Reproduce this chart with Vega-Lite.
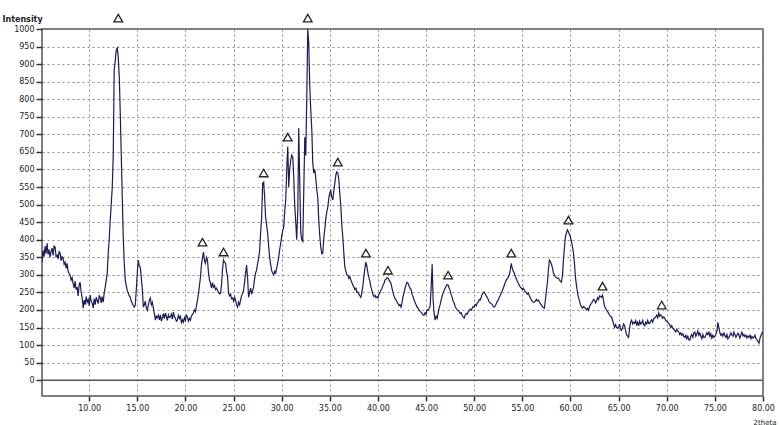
{
"$schema": "https://vega.github.io/schema/vega-lite/v6.json",
"width": 721, "height": 367,
"autosize": {"type": "none"},
"padding": {"left": 42, "top": 29, "right": 17, "bottom": 29},
"background": "white",
"config": {
  "view": {"stroke": "#555", "strokeWidth": 1.5},
  "axis": {"labelFont": "DejaVu Sans", "labelFontSize": 8, "labelColor": "#222", "labelOverlap": false, "titleFont": "DejaVu Sans", "titleColor": "#222", "grid": true, "gridColor": "#8a8a8a", "gridDash": [2, 3], "gridWidth": 1, "tickColor": "#333", "tickWidth": 1.5, "domain": false}
},
"datasets": {
"xrd": [
{"t":5.10,"i":335},{"t":5.21,"i":370},{"t":5.32,"i":352},{"t":5.42,"i":382},{"t":5.52,"i":360},{"t":5.63,"i":390},{"t":5.73,"i":358},{"t":5.83,"i":372},{"t":5.94,"i":350},{"t":6.05,"i":368},{"t":6.15,"i":376},{"t":6.25,"i":355},{"t":6.36,"i":382},{"t":6.46,"i":379},{"t":6.56,"i":352},{"t":6.67,"i":356},{"t":6.77,"i":345},{"t":6.88,"i":366},{"t":6.98,"i":362},{"t":7.08,"i":340},{"t":7.19,"i":352},{"t":7.29,"i":348},{"t":7.40,"i":330},{"t":7.50,"i":336},{"t":7.61,"i":318},{"t":7.71,"i":333},{"t":7.81,"i":310},{"t":7.92,"i":304},{"t":8.02,"i":299},{"t":8.12,"i":285},{"t":8.23,"i":292},{"t":8.33,"i":276},{"t":8.44,"i":262},{"t":8.54,"i":282},{"t":8.65,"i":258},{"t":8.75,"i":265},{"t":8.85,"i":240},{"t":8.96,"i":272},{"t":9.06,"i":279},{"t":9.17,"i":250},{"t":9.27,"i":236},{"t":9.38,"i":205},{"t":9.48,"i":228},{"t":9.58,"i":215},{"t":9.69,"i":238},{"t":9.79,"i":222},{"t":9.90,"i":230},{"t":10.00,"i":212},{"t":10.10,"i":242},{"t":10.21,"i":225},{"t":10.31,"i":220},{"t":10.42,"i":205},{"t":10.52,"i":232},{"t":10.63,"i":215},{"t":10.73,"i":236},{"t":10.83,"i":228},{"t":10.94,"i":218},{"t":11.04,"i":240},{"t":11.15,"i":236},{"t":11.25,"i":220},{"t":11.35,"i":238},{"t":11.46,"i":222},{"t":11.56,"i":248},{"t":11.67,"i":265},{"t":11.77,"i":285},{"t":11.88,"i":305},{"t":11.98,"i":362},{"t":12.08,"i":400},{"t":12.19,"i":456},{"t":12.29,"i":500},{"t":12.40,"i":550},{"t":12.50,"i":640},{"t":12.60,"i":883},{"t":12.71,"i":910},{"t":12.81,"i":940},{"t":12.92,"i":946},{"t":13.02,"i":920},{"t":13.13,"i":863},{"t":13.23,"i":760},{"t":13.33,"i":647},{"t":13.44,"i":520},{"t":13.54,"i":407},{"t":13.65,"i":330},{"t":13.75,"i":285},{"t":13.85,"i":270},{"t":13.96,"i":255},{"t":14.06,"i":248},{"t":14.17,"i":240},{"t":14.27,"i":236},{"t":14.38,"i":224},{"t":14.48,"i":219},{"t":14.58,"i":212},{"t":14.69,"i":208},{"t":14.79,"i":214},{"t":14.90,"i":260},{"t":15.00,"i":305},{"t":15.10,"i":342},{"t":15.21,"i":325},{"t":15.31,"i":322},{"t":15.42,"i":290},{"t":15.52,"i":260},{"t":15.63,"i":208},{"t":15.73,"i":215},{"t":15.83,"i":225},{"t":15.94,"i":205},{"t":16.04,"i":199},{"t":16.15,"i":214},{"t":16.25,"i":228},{"t":16.35,"i":234},{"t":16.46,"i":215},{"t":16.56,"i":222},{"t":16.67,"i":205},{"t":16.77,"i":190},{"t":16.88,"i":171},{"t":16.98,"i":182},{"t":17.08,"i":178},{"t":17.19,"i":185},{"t":17.29,"i":172},{"t":17.40,"i":186},{"t":17.50,"i":168},{"t":17.60,"i":177},{"t":17.71,"i":190},{"t":17.81,"i":175},{"t":17.92,"i":191},{"t":18.02,"i":182},{"t":18.12,"i":170},{"t":18.23,"i":186},{"t":18.33,"i":178},{"t":18.44,"i":180},{"t":18.54,"i":188},{"t":18.65,"i":174},{"t":18.75,"i":194},{"t":18.85,"i":182},{"t":18.96,"i":176},{"t":19.06,"i":168},{"t":19.17,"i":171},{"t":19.27,"i":185},{"t":19.38,"i":176},{"t":19.48,"i":182},{"t":19.58,"i":164},{"t":19.69,"i":172},{"t":19.79,"i":165},{"t":19.90,"i":178},{"t":20.00,"i":170},{"t":20.10,"i":185},{"t":20.21,"i":180},{"t":20.31,"i":168},{"t":20.42,"i":176},{"t":20.52,"i":171},{"t":20.62,"i":182},{"t":20.73,"i":188},{"t":20.83,"i":191},{"t":20.94,"i":200},{"t":21.04,"i":195},{"t":21.15,"i":212},{"t":21.25,"i":228},{"t":21.35,"i":245},{"t":21.46,"i":270},{"t":21.56,"i":293},{"t":21.67,"i":330},{"t":21.77,"i":350},{"t":21.88,"i":365},{"t":21.98,"i":340},{"t":22.08,"i":333},{"t":22.19,"i":350},{"t":22.29,"i":342},{"t":22.40,"i":305},{"t":22.50,"i":285},{"t":22.60,"i":276},{"t":22.71,"i":262},{"t":22.81,"i":278},{"t":22.92,"i":265},{"t":23.02,"i":270},{"t":23.13,"i":258},{"t":23.23,"i":262},{"t":23.33,"i":256},{"t":23.44,"i":250},{"t":23.54,"i":246},{"t":23.65,"i":248},{"t":23.75,"i":272},{"t":23.85,"i":315},{"t":23.96,"i":342},{"t":24.06,"i":336},{"t":24.17,"i":333},{"t":24.27,"i":310},{"t":24.38,"i":293},{"t":24.48,"i":248},{"t":24.58,"i":240},{"t":24.69,"i":245},{"t":24.79,"i":232},{"t":24.90,"i":234},{"t":25.00,"i":225},{"t":25.10,"i":236},{"t":25.21,"i":228},{"t":25.31,"i":215},{"t":25.42,"i":208},{"t":25.52,"i":222},{"t":25.63,"i":215},{"t":25.73,"i":228},{"t":25.83,"i":240},{"t":25.94,"i":248},{"t":26.04,"i":256},{"t":26.15,"i":280},{"t":26.25,"i":305},{"t":26.35,"i":328},{"t":26.46,"i":290},{"t":26.56,"i":236},{"t":26.67,"i":250},{"t":26.77,"i":262},{"t":26.88,"i":245},{"t":26.98,"i":256},{"t":27.08,"i":265},{"t":27.19,"i":290},{"t":27.29,"i":305},{"t":27.40,"i":315},{"t":27.50,"i":333},{"t":27.60,"i":345},{"t":27.71,"i":370},{"t":27.81,"i":420},{"t":27.92,"i":464},{"t":28.02,"i":561},{"t":28.13,"i":564},{"t":28.23,"i":520},{"t":28.33,"i":464},{"t":28.44,"i":440},{"t":28.54,"i":419},{"t":28.65,"i":380},{"t":28.75,"i":350},{"t":28.85,"i":330},{"t":28.96,"i":312},{"t":29.06,"i":305},{"t":29.17,"i":300},{"t":29.27,"i":310},{"t":29.38,"i":305},{"t":29.48,"i":320},{"t":29.58,"i":333},{"t":29.69,"i":350},{"t":29.79,"i":372},{"t":29.90,"i":390},{"t":30.00,"i":410},{"t":30.10,"i":425},{"t":30.21,"i":436},{"t":30.31,"i":480},{"t":30.42,"i":513},{"t":30.52,"i":598},{"t":30.63,"i":665},{"t":30.73,"i":550},{"t":30.83,"i":600},{"t":30.94,"i":627},{"t":31.04,"i":641},{"t":31.15,"i":635},{"t":31.25,"i":578},{"t":31.35,"i":500},{"t":31.46,"i":450},{"t":31.56,"i":400},{"t":31.67,"i":480},{"t":31.77,"i":718},{"t":31.88,"i":560},{"t":31.98,"i":420},{"t":32.08,"i":400},{"t":32.19,"i":395},{"t":32.29,"i":533},{"t":32.40,"i":692},{"t":32.50,"i":640},{"t":32.60,"i":798},{"t":32.71,"i":1000},{"t":32.81,"i":960},{"t":32.92,"i":835},{"t":33.02,"i":770},{"t":33.13,"i":712},{"t":33.23,"i":618},{"t":33.33,"i":590},{"t":33.44,"i":600},{"t":33.54,"i":575},{"t":33.65,"i":540},{"t":33.75,"i":520},{"t":33.85,"i":456},{"t":33.96,"i":410},{"t":34.06,"i":379},{"t":34.17,"i":360},{"t":34.27,"i":362},{"t":34.38,"i":407},{"t":34.48,"i":430},{"t":34.58,"i":460},{"t":34.69,"i":480},{"t":34.79,"i":493},{"t":34.90,"i":520},{"t":35.00,"i":533},{"t":35.10,"i":540},{"t":35.21,"i":520},{"t":35.31,"i":513},{"t":35.42,"i":540},{"t":35.52,"i":561},{"t":35.63,"i":585},{"t":35.73,"i":593},{"t":35.83,"i":590},{"t":35.94,"i":570},{"t":36.04,"i":530},{"t":36.15,"i":493},{"t":36.25,"i":440},{"t":36.35,"i":407},{"t":36.46,"i":360},{"t":36.56,"i":322},{"t":36.67,"i":310},{"t":36.77,"i":300},{"t":36.88,"i":299},{"t":36.98,"i":290},{"t":37.08,"i":295},{"t":37.19,"i":285},{"t":37.29,"i":278},{"t":37.40,"i":270},{"t":37.50,"i":265},{"t":37.60,"i":258},{"t":37.71,"i":262},{"t":37.81,"i":250},{"t":37.92,"i":251},{"t":38.02,"i":245},{"t":38.12,"i":240},{"t":38.23,"i":236},{"t":38.33,"i":250},{"t":38.44,"i":270},{"t":38.54,"i":295},{"t":38.65,"i":320},{"t":38.75,"i":336},{"t":38.85,"i":325},{"t":38.96,"i":305},{"t":39.06,"i":292},{"t":39.17,"i":280},{"t":39.27,"i":265},{"t":39.38,"i":255},{"t":39.48,"i":244},{"t":39.58,"i":238},{"t":39.69,"i":242},{"t":39.79,"i":235},{"t":39.90,"i":238},{"t":40.00,"i":234},{"t":40.10,"i":245},{"t":40.21,"i":250},{"t":40.31,"i":256},{"t":40.42,"i":262},{"t":40.52,"i":270},{"t":40.63,"i":276},{"t":40.73,"i":285},{"t":40.83,"i":288},{"t":40.94,"i":292},{"t":41.04,"i":291},{"t":41.15,"i":285},{"t":41.25,"i":280},{"t":41.35,"i":276},{"t":41.46,"i":262},{"t":41.56,"i":250},{"t":41.67,"i":240},{"t":41.77,"i":232},{"t":41.88,"i":228},{"t":41.98,"i":222},{"t":42.08,"i":219},{"t":42.19,"i":212},{"t":42.29,"i":215},{"t":42.40,"i":208},{"t":42.50,"i":220},{"t":42.60,"i":238},{"t":42.71,"i":248},{"t":42.81,"i":262},{"t":42.92,"i":272},{"t":43.02,"i":279},{"t":43.13,"i":276},{"t":43.23,"i":268},{"t":43.33,"i":262},{"t":43.44,"i":258},{"t":43.54,"i":245},{"t":43.65,"i":238},{"t":43.75,"i":228},{"t":43.85,"i":222},{"t":43.96,"i":215},{"t":44.06,"i":208},{"t":44.17,"i":205},{"t":44.27,"i":200},{"t":44.38,"i":196},{"t":44.48,"i":194},{"t":44.58,"i":190},{"t":44.69,"i":186},{"t":44.79,"i":185},{"t":44.90,"i":192},{"t":45.00,"i":188},{"t":45.10,"i":200},{"t":45.21,"i":199},{"t":45.31,"i":205},{"t":45.42,"i":210},{"t":45.52,"i":260},{"t":45.63,"i":330},{"t":45.73,"i":230},{"t":45.83,"i":190},{"t":45.94,"i":171},{"t":46.04,"i":182},{"t":46.15,"i":176},{"t":46.25,"i":190},{"t":46.35,"i":205},{"t":46.46,"i":215},{"t":46.56,"i":228},{"t":46.67,"i":240},{"t":46.77,"i":248},{"t":46.88,"i":256},{"t":46.98,"i":262},{"t":47.08,"i":268},{"t":47.19,"i":272},{"t":47.29,"i":271},{"t":47.40,"i":262},{"t":47.50,"i":255},{"t":47.60,"i":245},{"t":47.71,"i":235},{"t":47.81,"i":225},{"t":47.92,"i":219},{"t":48.02,"i":210},{"t":48.12,"i":205},{"t":48.23,"i":200},{"t":48.33,"i":199},{"t":48.44,"i":195},{"t":48.54,"i":190},{"t":48.65,"i":192},{"t":48.75,"i":185},{"t":48.85,"i":180},{"t":48.96,"i":177},{"t":49.06,"i":185},{"t":49.17,"i":190},{"t":49.27,"i":188},{"t":49.38,"i":195},{"t":49.48,"i":198},{"t":49.58,"i":202},{"t":49.69,"i":199},{"t":49.79,"i":205},{"t":49.90,"i":210},{"t":50.00,"i":208},{"t":50.10,"i":215},{"t":50.21,"i":212},{"t":50.31,"i":220},{"t":50.42,"i":222},{"t":50.52,"i":230},{"t":50.62,"i":228},{"t":50.73,"i":236},{"t":50.83,"i":245},{"t":50.94,"i":250},{"t":51.04,"i":251},{"t":51.15,"i":245},{"t":51.25,"i":240},{"t":51.35,"i":236},{"t":51.46,"i":230},{"t":51.56,"i":222},{"t":51.67,"i":220},{"t":51.77,"i":218},{"t":51.88,"i":215},{"t":51.98,"i":210},{"t":52.08,"i":208},{"t":52.19,"i":212},{"t":52.29,"i":218},{"t":52.40,"i":225},{"t":52.50,"i":228},{"t":52.60,"i":236},{"t":52.71,"i":242},{"t":52.81,"i":248},{"t":52.92,"i":255},{"t":53.02,"i":262},{"t":53.13,"i":271},{"t":53.23,"i":278},{"t":53.33,"i":285},{"t":53.44,"i":290},{"t":53.54,"i":293},{"t":53.65,"i":300},{"t":53.75,"i":315},{"t":53.85,"i":333},{"t":53.96,"i":318},{"t":54.06,"i":310},{"t":54.17,"i":305},{"t":54.27,"i":295},{"t":54.38,"i":288},{"t":54.48,"i":282},{"t":54.58,"i":276},{"t":54.69,"i":270},{"t":54.79,"i":265},{"t":54.90,"i":262},{"t":55.00,"i":258},{"t":55.10,"i":262},{"t":55.21,"i":256},{"t":55.31,"i":252},{"t":55.42,"i":250},{"t":55.52,"i":245},{"t":55.63,"i":248},{"t":55.73,"i":240},{"t":55.83,"i":235},{"t":55.94,"i":228},{"t":56.04,"i":225},{"t":56.15,"i":222},{"t":56.25,"i":222},{"t":56.35,"i":225},{"t":56.46,"i":230},{"t":56.56,"i":226},{"t":56.67,"i":228},{"t":56.77,"i":222},{"t":56.88,"i":218},{"t":56.98,"i":214},{"t":57.08,"i":210},{"t":57.19,"i":206},{"t":57.29,"i":205},{"t":57.40,"i":230},{"t":57.50,"i":255},{"t":57.60,"i":276},{"t":57.71,"i":315},{"t":57.81,"i":342},{"t":57.92,"i":338},{"t":58.02,"i":330},{"t":58.13,"i":320},{"t":58.23,"i":305},{"t":58.33,"i":299},{"t":58.44,"i":295},{"t":58.54,"i":292},{"t":58.65,"i":290},{"t":58.75,"i":291},{"t":58.85,"i":285},{"t":58.96,"i":282},{"t":59.06,"i":279},{"t":59.17,"i":300},{"t":59.27,"i":342},{"t":59.38,"i":380},{"t":59.48,"i":410},{"t":59.58,"i":419},{"t":59.69,"i":428},{"t":59.79,"i":422},{"t":59.90,"i":415},{"t":60.00,"i":407},{"t":60.10,"i":395},{"t":60.21,"i":380},{"t":60.31,"i":362},{"t":60.42,"i":330},{"t":60.52,"i":293},{"t":60.62,"i":270},{"t":60.73,"i":250},{"t":60.83,"i":236},{"t":60.94,"i":225},{"t":61.04,"i":215},{"t":61.15,"i":208},{"t":61.25,"i":205},{"t":61.35,"i":210},{"t":61.46,"i":208},{"t":61.56,"i":204},{"t":61.67,"i":200},{"t":61.77,"i":205},{"t":61.88,"i":199},{"t":61.98,"i":210},{"t":62.08,"i":215},{"t":62.19,"i":219},{"t":62.29,"i":225},{"t":62.40,"i":230},{"t":62.50,"i":228},{"t":62.60,"i":220},{"t":62.71,"i":225},{"t":62.81,"i":235},{"t":62.92,"i":230},{"t":63.02,"i":240},{"t":63.13,"i":238},{"t":63.23,"i":236},{"t":63.33,"i":242},{"t":63.44,"i":225},{"t":63.54,"i":210},{"t":63.65,"i":205},{"t":63.75,"i":200},{"t":63.85,"i":195},{"t":63.96,"i":191},{"t":64.06,"i":185},{"t":64.17,"i":182},{"t":64.27,"i":180},{"t":64.38,"i":170},{"t":64.48,"i":160},{"t":64.58,"i":151},{"t":64.69,"i":158},{"t":64.79,"i":150},{"t":64.90,"i":148},{"t":65.00,"i":151},{"t":65.10,"i":160},{"t":65.21,"i":145},{"t":65.31,"i":142},{"t":65.42,"i":150},{"t":65.52,"i":160},{"t":65.63,"i":155},{"t":65.73,"i":140},{"t":65.83,"i":130},{"t":65.94,"i":125},{"t":66.04,"i":122},{"t":66.15,"i":150},{"t":66.25,"i":165},{"t":66.35,"i":171},{"t":66.46,"i":160},{"t":66.56,"i":165},{"t":66.67,"i":162},{"t":66.77,"i":170},{"t":66.88,"i":158},{"t":66.98,"i":165},{"t":67.08,"i":155},{"t":67.19,"i":168},{"t":67.29,"i":160},{"t":67.40,"i":162},{"t":67.50,"i":170},{"t":67.60,"i":158},{"t":67.71,"i":155},{"t":67.81,"i":165},{"t":67.92,"i":160},{"t":68.02,"i":170},{"t":68.12,"i":162},{"t":68.23,"i":162},{"t":68.33,"i":168},{"t":68.44,"i":172},{"t":68.54,"i":165},{"t":68.65,"i":175},{"t":68.75,"i":177},{"t":68.85,"i":180},{"t":68.96,"i":185},{"t":69.06,"i":178},{"t":69.17,"i":191},{"t":69.27,"i":182},{"t":69.38,"i":186},{"t":69.48,"i":183},{"t":69.58,"i":176},{"t":69.69,"i":180},{"t":69.79,"i":177},{"t":69.90,"i":170},{"t":70.00,"i":168},{"t":70.10,"i":165},{"t":70.21,"i":162},{"t":70.31,"i":158},{"t":70.42,"i":150},{"t":70.52,"i":155},{"t":70.62,"i":148},{"t":70.73,"i":145},{"t":70.83,"i":142},{"t":70.94,"i":138},{"t":71.04,"i":145},{"t":71.15,"i":140},{"t":71.25,"i":137},{"t":71.35,"i":130},{"t":71.46,"i":135},{"t":71.56,"i":128},{"t":71.67,"i":132},{"t":71.77,"i":125},{"t":71.88,"i":122},{"t":71.98,"i":128},{"t":72.08,"i":118},{"t":72.19,"i":125},{"t":72.29,"i":115},{"t":72.40,"i":114},{"t":72.50,"i":125},{"t":72.60,"i":130},{"t":72.71,"i":122},{"t":72.81,"i":135},{"t":72.92,"i":137},{"t":73.02,"i":125},{"t":73.13,"i":132},{"t":73.23,"i":140},{"t":73.33,"i":128},{"t":73.44,"i":134},{"t":73.54,"i":125},{"t":73.65,"i":118},{"t":73.75,"i":130},{"t":73.85,"i":122},{"t":73.96,"i":122},{"t":74.06,"i":128},{"t":74.17,"i":135},{"t":74.27,"i":130},{"t":74.38,"i":137},{"t":74.48,"i":125},{"t":74.58,"i":132},{"t":74.69,"i":120},{"t":74.79,"i":128},{"t":74.90,"i":122},{"t":75.00,"i":125},{"t":75.10,"i":130},{"t":75.21,"i":140},{"t":75.31,"i":165},{"t":75.42,"i":150},{"t":75.52,"i":135},{"t":75.62,"i":128},{"t":75.73,"i":132},{"t":75.83,"i":125},{"t":75.94,"i":134},{"t":76.04,"i":128},{"t":76.15,"i":122},{"t":76.25,"i":130},{"t":76.35,"i":118},{"t":76.46,"i":122},{"t":76.56,"i":128},{"t":76.67,"i":135},{"t":76.77,"i":128},{"t":76.88,"i":125},{"t":76.98,"i":137},{"t":77.08,"i":130},{"t":77.19,"i":122},{"t":77.29,"i":128},{"t":77.40,"i":134},{"t":77.50,"i":128},{"t":77.60,"i":120},{"t":77.71,"i":130},{"t":77.81,"i":137},{"t":77.92,"i":126},{"t":78.02,"i":130},{"t":78.12,"i":124},{"t":78.23,"i":128},{"t":78.33,"i":120},{"t":78.44,"i":126},{"t":78.54,"i":122},{"t":78.65,"i":128},{"t":78.75,"i":118},{"t":78.85,"i":125},{"t":78.96,"i":120},{"t":79.06,"i":122},{"t":79.17,"i":128},{"t":79.27,"i":118},{"t":79.38,"i":115},{"t":79.48,"i":110},{"t":79.58,"i":105},{"t":79.69,"i":120},{"t":79.79,"i":128},{"t":79.90,"i":134},{"t":80.00,"i":137}
],
"peaks": [
{"t":13.02,"i":1031},{"t":32.71,"i":1031},{"t":28.13,"i":590},{"t":30.63,"i":692},{"t":35.83,"i":621},{"t":21.77,"i":393},{"t":23.96,"i":365},{"t":38.75,"i":362},{"t":41.04,"i":313},{"t":47.29,"i":299},{"t":53.85,"i":362},{"t":59.79,"i":456},{"t":63.33,"i":268},{"t":69.48,"i":214}
]
},
"layer": [
{
  "data": {"name": "xrd"},
  "mark": {"type": "line", "color": "#1c1c52", "strokeWidth": 1.2, "clip": true},
  "encoding": {
    "x": {"field": "t", "type": "quantitative", "scale": {"domain": [5.1, 80], "nice": false, "zero": false},
      "axis": {"values": [10, 15, 20, 25, 30, 35, 40, 45, 50, 55, 60, 65, 70, 75, 80], "format": ".2f", "tickSize": 5, "labelPadding": 3, "labelFlush": false,
        "title": "2theta", "titleFontSize": 7, "titleFontWeight": "normal", "titleAlign": "left", "titleX": 711, "titleY": 22, "titleBaseline": "top"}},
    "y": {"field": "i", "type": "quantitative", "scale": {"domain": [-45, 1000], "nice": false, "zero": false},
      "axis": {"values": [0, 50, 100, 150, 200, 250, 300, 350, 400, 450, 500, 550, 600, 650, 700, 750, 800, 850, 900, 950, 1000], "format": "d", "tickSize": 6, "labelPadding": 2, "labelFlush": false, "labelOverlap": false, "tickCount": 21,
        "title": "Intensity", "titleAngle": 0, "titleFontSize": 8, "titleFontWeight": "bold", "titleAlign": "left", "titleBaseline": "bottom", "titleX": -40, "titleY": -6}}
  }
},
{
  "data": {"values": [{}]},
  "mark": {"type": "rule", "color": "#555", "strokeWidth": 1.5},
  "encoding": {"y": {"datum": 0, "type": "quantitative",
      "axis": {"values": [0, 50, 100, 150, 200, 250, 300, 350, 400, 450, 500, 550, 600, 650, 700, 750, 800, 850, 900, 950, 1000], "format": "d", "tickSize": 6, "labelPadding": 2, "labelFlush": false, "labelOverlap": false, "tickCount": 21,
        "title": "Intensity", "titleAngle": 0, "titleFontSize": 8, "titleFontWeight": "bold", "titleAlign": "left", "titleBaseline": "bottom", "titleX": -40, "titleY": -6}}}
},
{
  "data": {"name": "peaks"},
  "mark": {"type": "point", "shape": "triangle-up", "filled": false, "color": "#222", "size": 75, "strokeWidth": 1.3, "opacity": 1},
  "encoding": {
    "x": {"field": "t", "type": "quantitative"},
    "y": {"field": "i", "type": "quantitative",
      "axis": {"values": [0, 50, 100, 150, 200, 250, 300, 350, 400, 450, 500, 550, 600, 650, 700, 750, 800, 850, 900, 950, 1000], "format": "d", "tickSize": 6, "labelPadding": 2, "labelFlush": false, "labelOverlap": false, "tickCount": 21,
        "title": "Intensity", "titleAngle": 0, "titleFontSize": 8, "titleFontWeight": "bold", "titleAlign": "left", "titleBaseline": "bottom", "titleX": -40, "titleY": -6}}
  }
}
]
}
